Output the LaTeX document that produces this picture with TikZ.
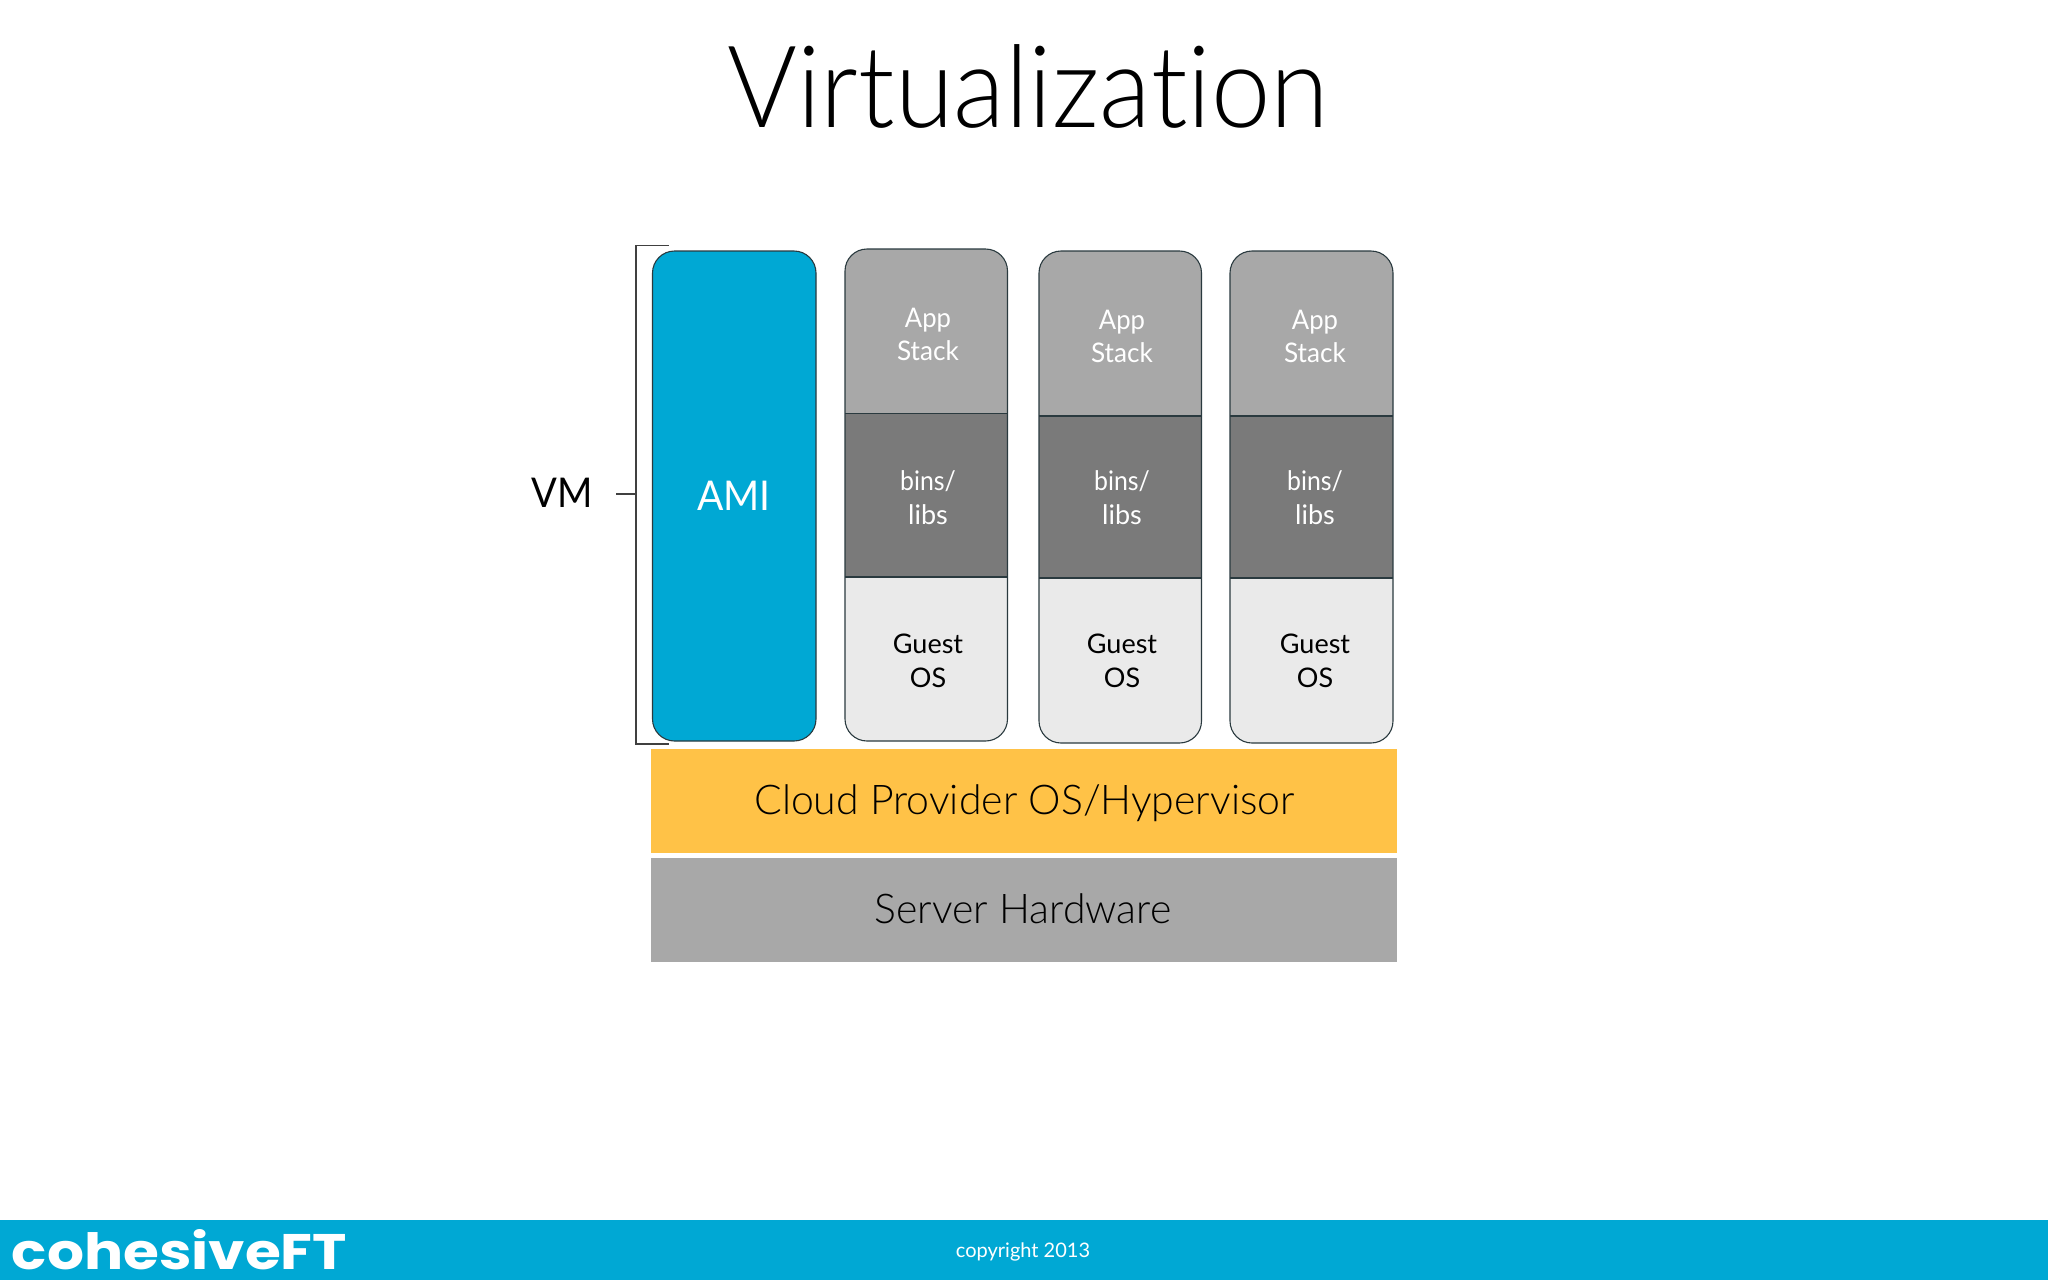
\documentclass[tikz,border=0pt]{standalone}
\usepackage{fontspec}
\setmainfont{Lato}
\newfontfamily\lightfont{Lato Light}[Ligatures=NoCommon]
\newfontfamily\logofont{Poppins}
\definecolor{cyanbar}{HTML}{00A8D4}
\definecolor{midgrey}{HTML}{A8A8A8}
\definecolor{darkgrey}{HTML}{7A7A7A}
\definecolor{palegrey}{HTML}{EAEAEA}
\definecolor{amber}{HTML}{FFC247}
\definecolor{edge}{HTML}{2A3A3F}
\tikzset{
  txt/.style={inner sep=0pt,outer sep=0pt,anchor=base},
  stacktxt/.style={txt,font=\fontsize{27}{34}\selectfont},
  bigtxt/.style={txt,font=\lightfont\fontsize{41}{41}\selectfont,text=black},
  bandbox/.style={inner sep=0pt,outer sep=0pt,anchor=north west},
  outline/.style={draw=edge,line width=1.1pt},
  thinline/.style={draw=black!75,line width=1.1pt},
}
% #1 name, #2 left, #3 right, #4 top, #5 div1, #6 div2, #7 bottom, #8 centre x, #9 baseline shift
\newcommand{\vmstack}[9]{%
  \path[fill=midgrey] (#2,#5) -- (#2,#4+22) arc[start angle=180,end angle=90,x radius=22,y radius=-22] -- (#3-22,#4) arc[start angle=90,end angle=0,x radius=22,y radius=-22] -- (#3,#5) -- cycle;
  \fill[darkgrey] (#2,#5) rectangle (#3,#6);
  \path[fill=palegrey] (#2,#6) -- (#2,#7-22) arc[start angle=180,end angle=270,x radius=22,y radius=-22] -- (#3-22,#7) arc[start angle=270,end angle=360,x radius=22,y radius=-22] -- (#3,#6) -- cycle;
  \draw[outline] (#2,#7-22) -- (#2,#4+22) arc[start angle=180,end angle=90,x radius=22,y radius=-22] -- (#3-22,#4) arc[start angle=90,end angle=0,x radius=22,y radius=-22] -- (#3,#7-22) arc[start angle=360,end angle=270,x radius=22,y radius=-22] -- (#2+22,#7) arc[start angle=270,end angle=180,x radius=22,y radius=-22] -- cycle;
  \draw[outline] (#2,#5) -- (#3,#5) (#2,#6) -- (#3,#6);
  \node[stacktxt,text=white] (#1a1) at (#8,327+#9) {\scalebox{.95}[1]{App}};
  \node[stacktxt,text=white] (#1a2) at (#8,360+#9) {\scalebox{.97}[1]{Stack}};
  \node[stacktxt,text=white] (#1b1) at (#8,490) {\scalebox{.92}[1]{bins/}};
  \node[stacktxt,text=white] (#1b2) at (#8,524) {libs};
  \node[stacktxt,text=black] (#1g1) at (#8,653) {Guest};
  \node[stacktxt,text=black] (#1g2) at (#8,687) {OS};
}
\begin{document}
\begin{tikzpicture}[x=1pt,y=-1pt]
\useasboundingbox (0,0) rectangle (2048,1280);
\fill[white] (0,0) rectangle (2048,1280);
\node[txt,font=\lightfont\fontsize{114}{114}\selectfont,text=black] (title) at (1028,127) {\scalebox{.935}[1]{Virtualization}};
% AMI
\node[inner sep=0pt,outer sep=0pt,anchor=north west,minimum width=163.5pt,minimum height=490pt,rounded corners=22pt,fill=cyanbar,draw=edge,line width=1.1pt] (amibox) at (652.5,251) {};
\node[txt,font=\fontsize{41}{41}\selectfont,text=white] (ami) at (734,510) {\scalebox{.95}[1]{AMI}};
% stacks
\vmstack{s}{845}{1007.5}{249}{413.5}{577}{741}{928}{0}
\vmstack{t}{1039}{1201.5}{251}{416}{578}{743}{1122}{2}
\vmstack{u}{1230}{1393}{251}{416}{578}{743}{1315}{2}
% bracket
\node[txt,font=\fontsize{41}{41}\selectfont,text=black] (vm) at (562,507.5) {\scalebox{.93}[1]{VM}};
\coordinate (bt) at (668.5,245.5);
\coordinate (btl) at (636,245.5);
\coordinate (bbl) at (636,744);
\coordinate (bb) at (668.5,744);
\coordinate (tickl) at (616,494);
\coordinate (tickr) at (636,494);
\draw[thinline] (bt) -- (btl) -- (bbl) -- (bb);
\draw[thinline] (tickl) -- (tickr);
% bands
\node[bandbox,fill=amber,minimum width=746pt,minimum height=104pt] (cloudbox) at (651,749) {};
\node[bigtxt] (cloud) at (1024.5,814) {Cloud Provider OS/Hypervisor};
\node[bandbox,fill=midgrey,minimum width=746pt,minimum height=104pt] (hwbox) at (651,858) {};
\node[bigtxt] (hw) at (1023,923) {Server Hardware};
% footer
\node[bandbox,fill=cyanbar,minimum width=2048pt,minimum height=60pt] (footer) at (0,1220) {};
\node[txt,font=\fontsize{20}{20}\selectfont,text=white] (copy) at (1023,1257) {copyright 2013};
\node[inner sep=0pt,outer sep=0pt,anchor=base west,text=white] (logo) at (12,1269) {\resizebox{335pt}{40pt}{\logofont\bfseries cohesiveFT}};
\end{tikzpicture}
\end{document}
